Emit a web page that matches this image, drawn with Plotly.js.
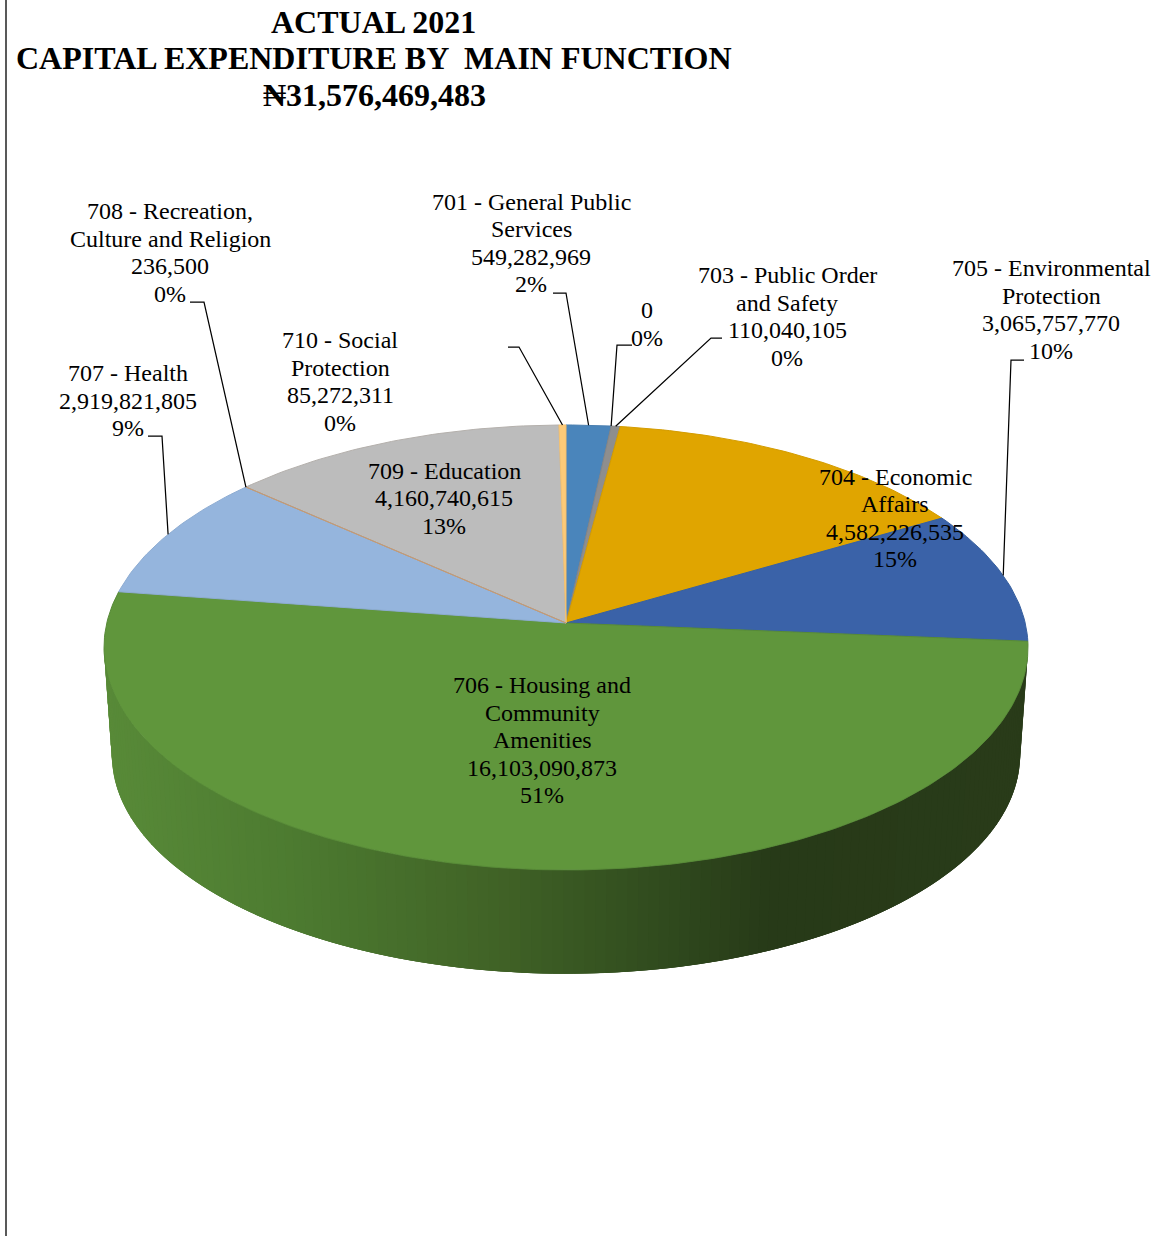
<!DOCTYPE html>
<html>
<head>
<meta charset="utf-8">
<script src="https://cdn.plot.ly/plotly-3.0.1.min.js"></script>
<style>html,body{margin:0;padding:0;background:#fff}#chart{width:1155px;height:1236px}</style>
</head>
<body>
<div id="chart"></div>
<script>
// Capital expenditure by main function, actual 2021
const titleLines = ['ACTUAL 2021', 'CAPITAL EXPENDITURE BY \u00a0MAIN FUNCTION', '\u20a631,576,469,483'];
const categories = [
  ['701 - General Public', 'Services'],
  [],
  ['703 - Public Order', 'and Safety'],
  ['704 - Economic', 'Affairs'],
  ['705 - Environmental', 'Protection'],
  ['706 - Housing and', 'Community', 'Amenities'],
  ['707 - Health'],
  ['708 - Recreation,', 'Culture and Religion'],
  ['709 - Education'],
  ['710 - Social', 'Protection']
];
const values = [549282969, 0, 110040105, 4582226535, 3065757770, 16103090873, 2919821805, 236500, 4160740615, 85272311];
const sliceColors = ['#4a85bb', '#8e8e8e', '#8e8e8e', '#e0a500', '#3a62a8', '#60963c', '#95b5dd', '#c09a78', '#bcbcbc', '#fdca78'];
const edgeColors = ['#4a7fb0', '#8e8e8e', '#858585', '#d49c00', '#37609f', '#578a37', '#8dacd2', '#c09a78', '#b4b0ac', '#f5c270'];

// Label placement in page pixels: centre x, first line y, line pitch
const labelX = [531, 647, 787, 895, 1051, 542, 128, 170, 444, 340];
const labelY = [201.6, 310, 275, 476.6, 268, 685, 373, 211, 470.6, 340];
const linePitch = 27.5;

// Leader elbows in page pixels; the far end is worked out from the slice
const leaders = {
  0: [[553, 293], [566, 293]],
  1: [[632, 345], [617, 345]],
  2: [[722, 338], [711, 338]],
  4: [[1024, 360], [1011, 360]],
  6: [[148, 436], [162, 436]],
  7: [[190, 302], [204, 302]],
  9: [[508, 347], [519, 347]]
};

// Perspective view of the disc
const centerX = 566, centerY = 623;
const spreadX = 459.2, spreadY = 219.8, tilt = 0.11;
const baseY = 731, baseScale = 0.983;

function project(deg, scale, originY) {
  const t = deg * Math.PI / 180;
  const u = Math.sin(t), v = -Math.cos(t);
  const d = 1 - tilt * v;
  return [centerX + scale * spreadX * u / d, originY + scale * spreadY * v / d];
}
const rim = deg => project(deg, 1, centerY);
const foot = deg => project(deg, baseScale, baseY);

const total = values.reduce((a, b) => a + b, 0);
const traces = [];

// Side wall: narrow bands whose shade depends on their page x
const wallStops = [[104, 88, 138, 56], [300, 76, 122, 48], [500, 64, 98, 38], [640, 50, 78, 31], [770, 39, 58, 24], [1030, 41, 59, 25]];
function wallColor(x) {
  let i = 0;
  while (i < wallStops.length - 2 && x > wallStops[i + 1][0]) i++;
  const a = wallStops[i], b = wallStops[i + 1];
  const f = Math.min(1, Math.max(0, (x - a[0]) / (b[0] - a[0])));
  return 'rgb(' + [1, 2, 3].map(k => Math.round(a[k] + (b[k] - a[k]) * f)).join(',') + ')';
}
const wallStart = Math.acos(-tilt) * 180 / Math.PI;
const wallEnd = 360 - wallStart;
const bandWidth = 1.2;
// Each band runs on under the next one so no seams open between them
for (let a = wallStart; a < wallEnd; a += bandWidth) {
  const b = Math.min(a + bandWidth * 3, wallEnd);
  const pts = [];
  for (let s = 0; s <= 4; s++) pts.push(rim(a + (b - a) * s / 4));
  for (let s = 4; s >= 0; s--) pts.push(foot(a + (b - a) * s / 4));
  traces.push({
    type: 'scatter', mode: 'lines', x: pts.map(p => p[0]), y: pts.map(p => p[1]),
    fill: 'toself', fillcolor: wallColor(rim(a + bandWidth / 2)[0]), line: {width: 0},
    hoverinfo: 'skip', showlegend: false
  });
}

// Top face: one wedge per function, swept clockwise from twelve o'clock
let running = 0;
const midAngle = [];
values.forEach((val, i) => {
  const start = running / total * 360;
  running += val;
  const end = running / total * 360;
  midAngle.push((start + end) / 2);
  if (val === 0) return;
  const pts = [[centerX, centerY]];
  const steps = Math.max(2, Math.ceil(end - start));
  for (let s = 0; s <= steps; s++) pts.push(rim(start + (end - start) * s / steps));
  pts.push([centerX, centerY]);
  traces.push({
    type: 'scatter', mode: 'lines', x: pts.map(p => p[0]), y: pts.map(p => p[1]),
    fill: 'toself', fillcolor: sliceColors[i], line: {color: edgeColors[i], width: 1},
    hoverinfo: 'skip', showlegend: false
  });
});
// The tiniest wedge reads as a hairline, so it goes over its neighbours
const hair = traces.splice(traces.length - 3, 1)[0];
traces.push(traces.pop()); traces.push(hair);

// Leader lines
Object.keys(leaders).forEach(k => {
  const end = rim(midAngle[k]);
  const pts = leaders[k].concat([end]);
  traces.push({
    type: 'scatter', mode: 'lines', x: pts.map(p => p[0]), y: pts.map(p => p[1]),
    line: {color: '#000', width: 1.25}, hoverinfo: 'skip', showlegend: false
  });
});

// Data labels, one annotation per line to hold the tight line pitch
const annotations = [];
values.forEach((val, i) => {
  const lines = categories[i].concat([val.toLocaleString('en-US'), Math.round(val / total * 100) + '%']);
  lines.forEach((text, n) => {
    annotations.push({
      xref: 'x', yref: 'y', x: labelX[i], y: labelY[i] + n * linePitch, text: text,
      showarrow: false, xanchor: 'center', yanchor: 'middle',
      font: {family: '"Liberation Serif", serif', size: 24, color: '#000'}
    });
  });
});

// Heading
const titleX = [373, 374, 374], titleY = [22, 58, 95];
titleLines.forEach((text, n) => {
  annotations.push({
    xref: 'x', yref: 'y', x: titleX[n], y: titleY[n], text: '<b>' + text + '</b>',
    showarrow: false, xanchor: 'center', yanchor: 'middle',
    font: {family: '"Liberation Serif", serif', size: 32, color: '#000'}
  });
});

const hidden = {visible: false, fixedrange: true};
Plotly.newPlot('chart', traces, {
  width: 1155, height: 1236,
  margin: {l: 0, r: 0, t: 0, b: 0},
  paper_bgcolor: '#fff', plot_bgcolor: '#fff',
  xaxis: Object.assign({range: [0, 1155]}, hidden),
  yaxis: Object.assign({range: [1236, 0]}, hidden),
  showlegend: false,
  annotations: annotations,
  shapes: [{type: 'line', xref: 'x', yref: 'y', x0: 6, x1: 6, y0: 0, y1: 1236, line: {color: '#222', width: 1.5}}]
}, {displayModeBar: false, staticPlot: true});
</script>
</body>
</html>
